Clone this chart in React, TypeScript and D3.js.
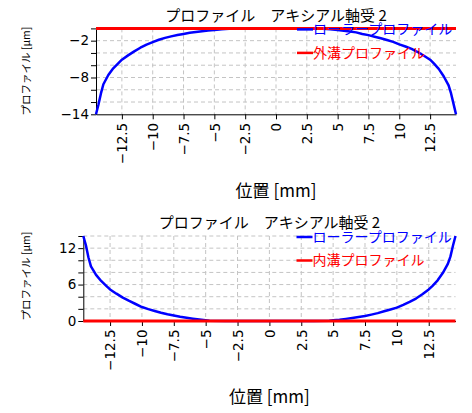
import React, { useEffect, useRef } from 'react';
import * as d3 from 'd3';

// x positions along the roller [mm]
const xTicks = [-12.5, -10, -7.5, -5, -2.5, 0, 2.5, 5, 7.5, 10, 12.5];
const xDomain = [-14.6, 14.6];

// roller profile vs outer race (top chart)
const outerX = [
  -14.6, -14.4, -14.2, -14.0, -13.6, -13.2, -12.8, -12.5, -12.0, -11.5, -11.0, -10.5, -10.0,
  -9.5, -9.0, -8.5, -8.0, -7.5, -7.0, -6.5, -6.0, -5.5, -5.0, -4.4, -3.5, -2.5,
  2.5, 3.5, 4.4, 5.0, 5.5, 6.0, 6.5, 7.0, 7.5, 8.0, 8.5, 9.0, 9.5,
  10.0, 10.5, 11.0, 11.5, 12.0, 12.5, 12.8, 13.2, 13.6, 14.0, 14.2, 14.4, 14.6,
];
const outerY = [
  -14, -12.4, -10.6, -9.1, -7.6, -6.5, -5.7, -5.1, -4.4, -3.75, -3.15, -2.65, -2.25,
  -1.85, -1.55, -1.3, -1.08, -0.9, -0.72, -0.58, -0.45, -0.36, -0.28, -0.12, -0.03, 0,
  0, -0.03, -0.12, -0.28, -0.38, -0.5, -0.65, -0.9, -1.1, -1.35, -1.6, -1.9, -2.2,
  -2.6, -2.95, -3.35, -3.85, -4.45, -5.1, -5.7, -6.6, -7.8, -9.3, -10.6, -12.3, -14,
];

// roller profile vs inner race (bottom chart)
const innerX = [
  -14.6, -14.4, -14.2, -14.0, -13.6, -13.2, -12.8, -12.5, -12.0, -11.5, -11.0, -10.5, -10.0,
  -9.5, -9.0, -8.5, -8.0, -7.5, -7.0, -6.5, -6.0, -5.5, -5.0, -4.7, -3.5,
  3.5, 4.7, 5.0, 5.5, 6.0, 6.5, 7.0, 7.5, 8.0, 8.5, 9.0, 9.5,
  10.0, 10.5, 11.0, 11.5, 12.0, 12.5, 12.8, 13.2, 13.6, 14.0, 14.2, 14.4, 14.6,
];
const innerY = [
  14, 12.5, 10.5, 9.0, 7.6, 6.6, 5.8, 5.2, 4.5, 3.85, 3.3, 2.8, 2.3,
  1.95, 1.65, 1.35, 1.1, 0.9, 0.7, 0.53, 0.38, 0.25, 0.13, 0.03, 0,
  0, 0.03, 0.12, 0.22, 0.35, 0.5, 0.65, 0.82, 1.05, 1.3, 1.6, 1.9,
  2.2, 2.65, 3.15, 3.7, 4.4, 5.2, 5.8, 6.7, 7.9, 9.4, 10.6, 12.4, 14,
];

// race groove profile (flat)
const grooveX = [-14.6, 14.6];
const grooveY = [0, 0];

const outerYTicks = [-14, -12, -10, -8, -6, -4, -2, 0];
const outerYLabels = [-14, -8, -2];
const innerYTicks = [0, 2, 4, 6, 8, 10, 12, 14];
const innerYLabels = [0, 6, 12];

const chartTitle = 'プロファイル　アキシアル軸受 2';
const rollerName = 'ローラープロファイル';
const xTitle = '位置 [mm]';
const yTitle = 'プロファイル [μm]';

const jp = '"Noto Sans CJK JP", "Noto Sans", sans-serif';
const num = '"DejaVu Sans", sans-serif';

type Panel = {
  left: number; right: number; top: number; bottom: number;
  yDomain: number[]; yTicks: number[]; yLabels: number[];
  curveX: number[]; curveY: number[];
  grooveName: string; titleY: number; xTitleY: number; yTitleY: number;
};

const panels: Panel[] = [
  {
    left: 96, right: 456, top: 28.4, bottom: 114.3,
    yDomain: [-14, 0], yTicks: outerYTicks, yLabels: outerYLabels,
    curveX: outerX, curveY: outerY, grooveName: '外溝プロファイル',
    titleY: 21, xTitleY: 197, yTitleY: 71,
  },
  {
    left: 83.3, right: 455.5, top: 236, bottom: 321,
    yDomain: [0, 14], yTicks: innerYTicks, yLabels: innerYLabels,
    curveX: innerX, curveY: innerY, grooveName: '内溝プロファイル',
    titleY: 228, xTitleY: 403, yTitleY: 276,
  },
];

const fmt = (d: number) => (d < 0 ? '\u2212' : '') + Math.abs(d);

function drawPanel(svg: d3.Selection<SVGSVGElement, unknown, null, undefined>, p: Panel) {
  const x = d3.scaleLinear().domain(xDomain).range([p.left, p.right]);
  const y = d3.scaleLinear().domain(p.yDomain).range([p.bottom, p.top]);
  const g = svg.append('g');

  // grid
  g.append('g').selectAll('line').data(xTicks).join('line')
    .attr('x1', d => x(d)).attr('x2', d => x(d))
    .attr('y1', p.top).attr('y2', p.bottom)
    .attr('stroke', '#c4c4c4').attr('stroke-dasharray', '4,3');
  g.append('g').selectAll('line').data(p.yTicks.filter(d => d !== p.yDomain[0])).join('line')
    .attr('x1', p.left).attr('x2', p.right)
    .attr('y1', d => y(d)).attr('y2', d => y(d))
    .attr('stroke', '#c4c4c4').attr('stroke-dasharray', '4,3');

  // axes
  const xAxis = g.append('g')
    .attr('transform', `translate(0,${p.bottom})`)
    .call(d3.axisBottom(x).tickValues(xTicks).tickSize(5).tickSizeOuter(0).tickFormat(d => fmt(+d)));
  xAxis.selectAll('text')
    .attr('transform', 'rotate(-90)')
    .attr('x', -8.5).attr('y', 0).attr('dy', '0.35em')
    .attr('text-anchor', 'end');
  xAxis.attr('font-family', num).attr('font-size', 13.5);

  const yAxis = g.append('g')
    .attr('transform', `translate(${p.left},0)`)
    .call(d3.axisLeft(y).tickValues(p.yTicks).tickSize(5).tickPadding(2).tickSizeOuter(0)
      .tickFormat(d => (p.yLabels.includes(+d) ? fmt(+d) : '')));
  yAxis.attr('font-family', num).attr('font-size', 13.5);
  svg.selectAll('.tick text').attr('fill', '#000');

  // roller profile
  const line = d3.line<number>().x((_, i) => x(p.curveX[i])).y(d => y(d));
  g.append('path').datum(p.curveY)
    .attr('d', line)
    .attr('fill', 'none').attr('stroke', '#0000ff').attr('stroke-width', 2.5)
    .attr('stroke-linejoin', 'round');

  // groove profile
  const gline = d3.line<number>().x((_, i) => x(grooveX[i])).y(d => y(d));
  g.append('path').datum(grooveY)
    .attr('d', gline)
    .attr('fill', 'none').attr('stroke', '#ff0000').attr('stroke-width', 3);

  // titles
  const cx = (p.left + p.right) / 2;
  g.append('text').attr('x', cx).attr('y', p.titleY)
    .attr('text-anchor', 'middle').attr('font-family', jp).attr('font-size', 15)
    .text(chartTitle);
  g.append('text').attr('x', cx).attr('y', p.xTitleY)
    .attr('text-anchor', 'middle').attr('font-family', jp).attr('font-size', 17)
    .text(xTitle);
  g.append('text').attr('transform', `translate(26,${p.yTitleY}) rotate(-90)`)
    .attr('text-anchor', 'middle').attr('dy', '0.35em')
    .attr('font-family', jp).attr('font-size', 10.5)
    .text(yTitle);

  // legend
  const lx = p.right - 159;
  const items = [
    { name: rollerName, color: '#0000ff', yy: p.top + 1 },
    { name: p.grooveName, color: '#ff0000', yy: p.top + 24.5 },
  ];
  items.forEach(it => {
    g.append('line').attr('x1', lx).attr('x2', lx + 16).attr('y1', it.yy).attr('y2', it.yy)
      .attr('stroke', it.color).attr('stroke-width', 2.5);
    g.append('text').attr('x', lx + 16).attr('y', it.yy).attr('dy', '0.35em')
      .attr('font-family', jp).attr('font-size', 14).attr('fill', it.color)
      .text(it.name);
  });
}

const App: React.FC = () => {
  const ref = useRef<SVGSVGElement>(null);

  useEffect(() => {
    if (!ref.current) return;
    const svg = d3.select(ref.current);
    svg.selectAll('*').remove();
    panels.forEach(p => drawPanel(svg, p));
  }, []);

  return (
    <svg
      ref={ref}
      width={472}
      height={413}
      style={{ position: 'absolute', left: 0, top: 0, background: '#fff' }}
    />
  );
};

export default App;
